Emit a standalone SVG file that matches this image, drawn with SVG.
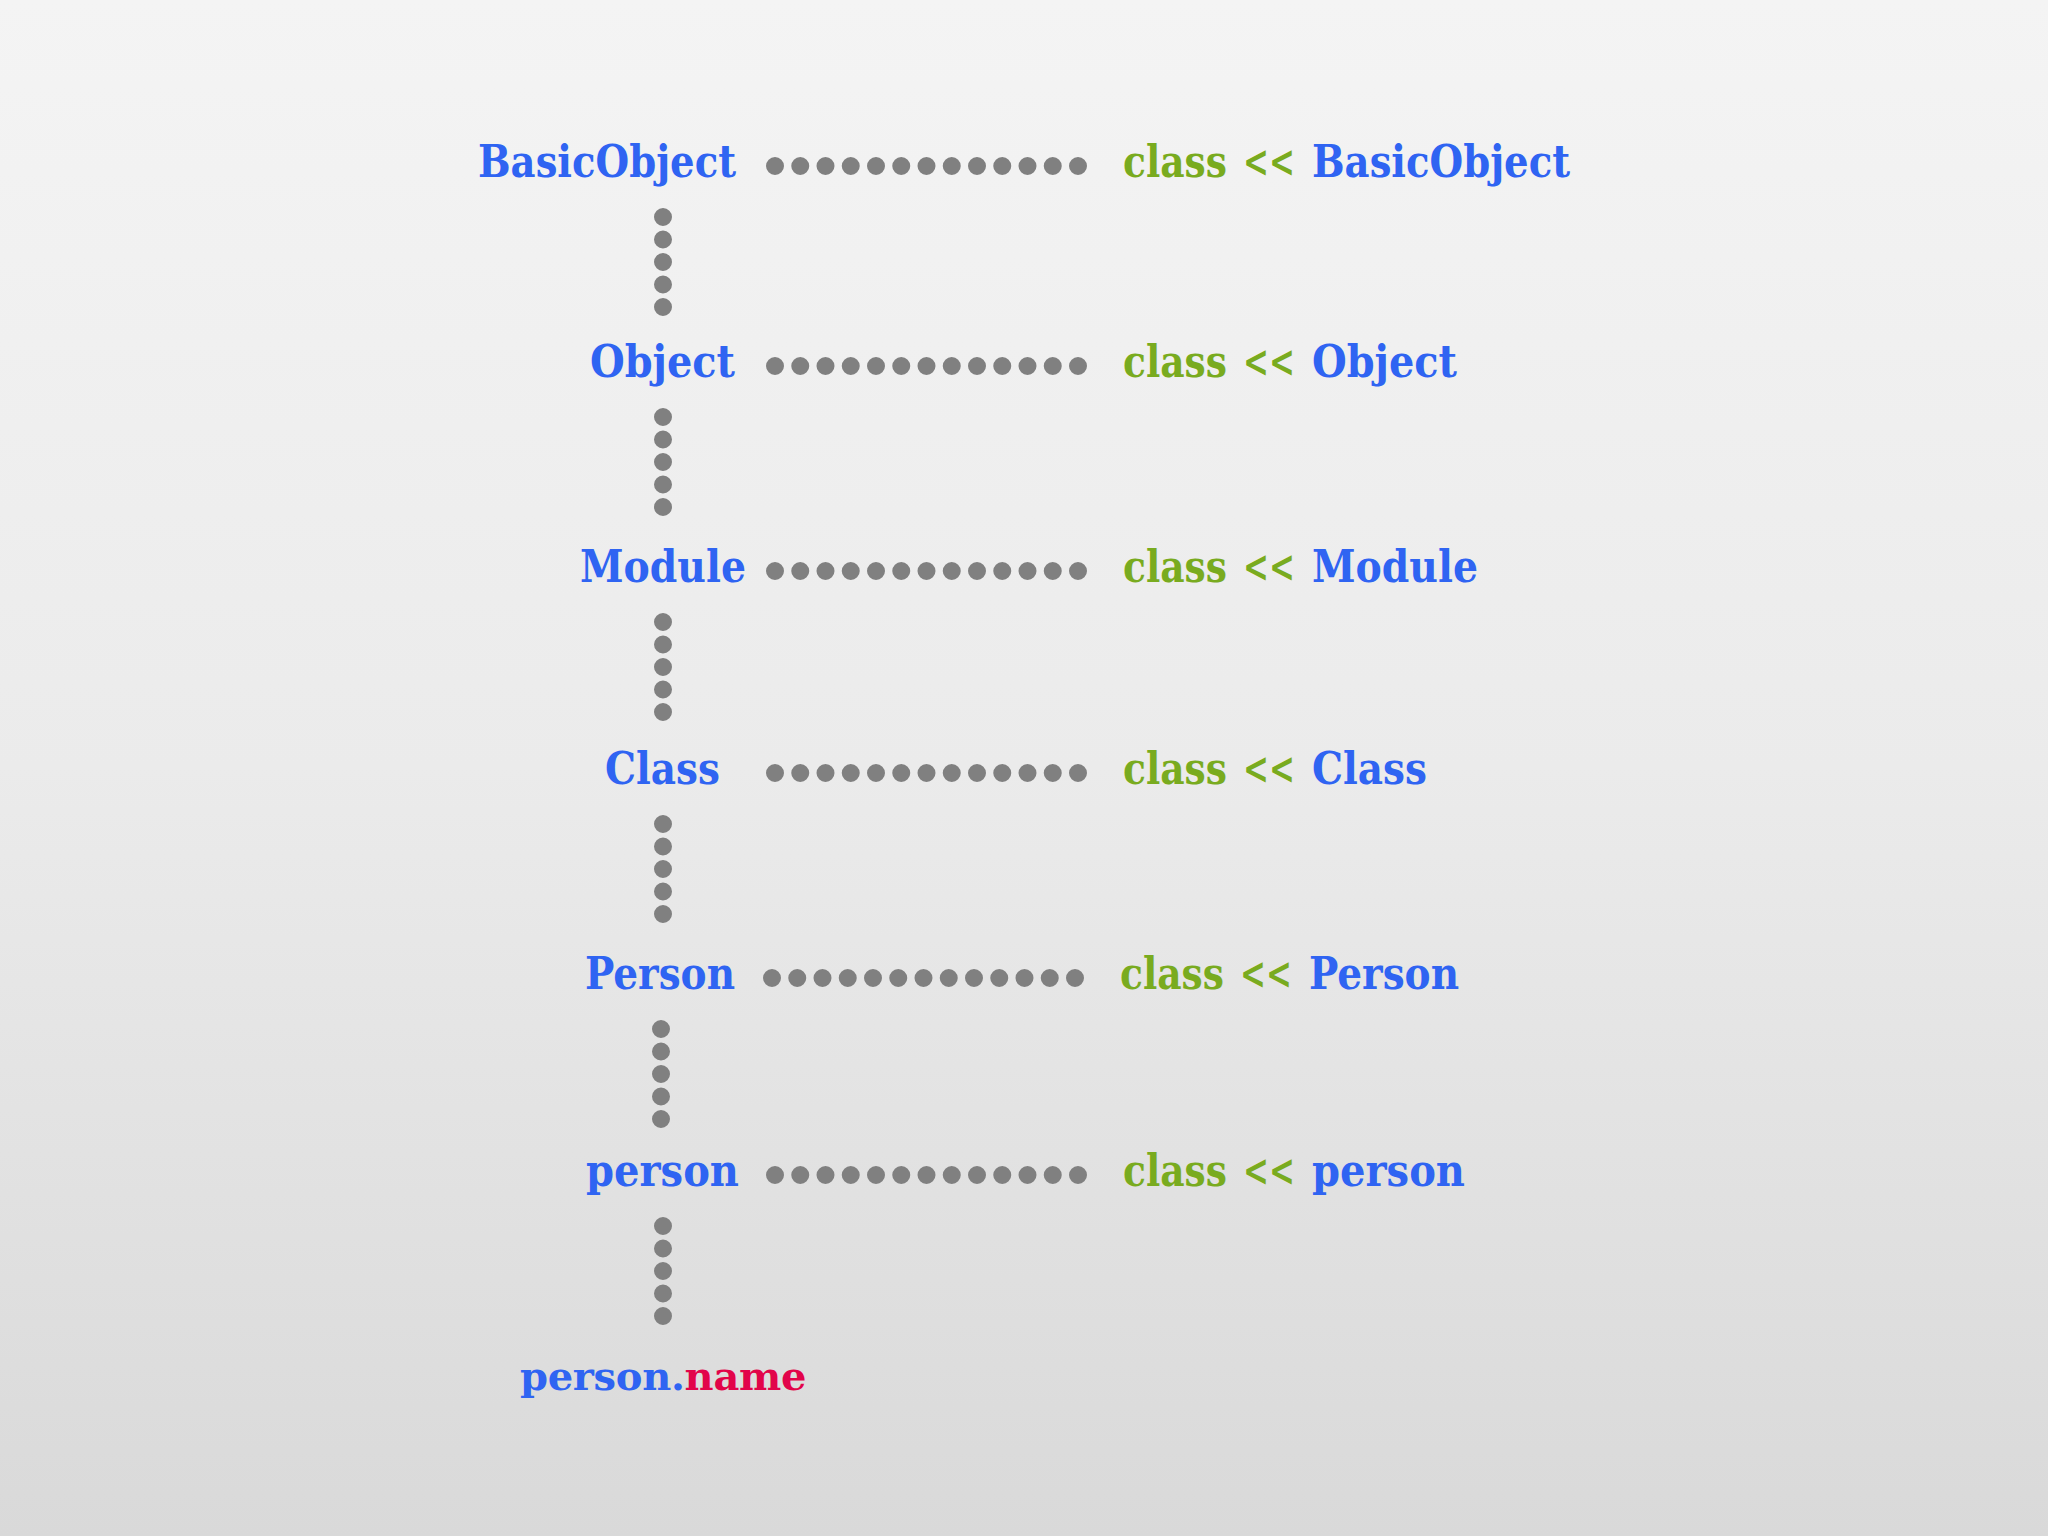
<svg xmlns="http://www.w3.org/2000/svg" width="2048" height="1536" viewBox="0 0 2048 1536">
<defs>
<linearGradient id="bg" x1="0" y1="0" x2="0" y2="1">
<stop offset="0" stop-color="#f4f4f4"/>
<stop offset="0.5" stop-color="#ebebeb"/>
<stop offset="1" stop-color="#d9d9d9"/>
</linearGradient>
<style>
text{font-family:"DejaVu Serif","Liberation Serif",serif;font-weight:bold;font-size:44px}
.b{fill:#2f64f2}
.g{fill:#79ab1f}
.r{fill:#e2044a}
.h{stroke:#808080;stroke-width:18;stroke-linecap:round;stroke-dasharray:0 25.25;fill:none}
.v{stroke:#808080;stroke-width:18;stroke-linecap:round;stroke-dasharray:0 22.5;fill:none}
</style>
</defs>
<rect width="2048" height="1536" fill="url(#bg)"/>
<g id="connectors">
<line class="h" x1="775" y1="166" x2="1080" y2="166"/>
<line class="h" x1="775" y1="366" x2="1080" y2="366"/>
<line class="h" x1="775" y1="571" x2="1080" y2="571"/>
<line class="h" x1="775" y1="773" x2="1080" y2="773"/>
<line class="h" x1="772" y1="978" x2="1077" y2="978"/>
<line class="h" x1="775" y1="1175" x2="1080" y2="1175"/>
<line class="v" x1="663" y1="217" x2="663" y2="309"/>
<line class="v" x1="663" y1="417" x2="663" y2="509"/>
<line class="v" x1="663" y1="622" x2="663" y2="714"/>
<line class="v" x1="663" y1="824" x2="663" y2="916"/>
<line class="v" x1="661" y1="1029" x2="661" y2="1121"/>
<line class="v" x1="663" y1="1226" x2="663" y2="1318"/>
</g>
<g id="node-basicobject"><text class="b" x="478" y="177" textLength="258" lengthAdjust="spacingAndGlyphs">BasicObject</text></g>
<g id="node-object"><text class="b" x="590" y="377" textLength="145" lengthAdjust="spacingAndGlyphs">Object</text></g>
<g id="node-module"><text class="b" x="580" y="582" textLength="166" lengthAdjust="spacingAndGlyphs">Module</text></g>
<g id="node-class"><text class="b" x="605" y="784" textLength="115" lengthAdjust="spacingAndGlyphs">Class</text></g>
<g id="node-Person"><text class="b" x="585" y="989" textLength="150" lengthAdjust="spacingAndGlyphs">Person</text></g>
<g id="node-person"><text class="b" x="586" y="1186" textLength="153" lengthAdjust="spacingAndGlyphs">person</text></g>
<g id="node-person-name">
<text x="520" y="1390" style="font-size:40px;letter-spacing:-0.3px"><tspan class="b">person.</tspan><tspan class="r">name</tspan></text>
</g>
<g id="node-meta-basicobject">
<text class="g" x="1123" y="177" textLength="104" lengthAdjust="spacingAndGlyphs">class</text>
<text class="g" x="1243" y="177" textLength="52" lengthAdjust="spacingAndGlyphs">&lt;&lt;</text>
<text class="b" x="1312" y="177" textLength="258" lengthAdjust="spacingAndGlyphs">BasicObject</text>
</g>
<g id="node-meta-object">
<text class="g" x="1123" y="377" textLength="104" lengthAdjust="spacingAndGlyphs">class</text>
<text class="g" x="1243" y="377" textLength="52" lengthAdjust="spacingAndGlyphs">&lt;&lt;</text>
<text class="b" x="1312" y="377" textLength="145" lengthAdjust="spacingAndGlyphs">Object</text>
</g>
<g id="node-meta-module">
<text class="g" x="1123" y="582" textLength="104" lengthAdjust="spacingAndGlyphs">class</text>
<text class="g" x="1243" y="582" textLength="52" lengthAdjust="spacingAndGlyphs">&lt;&lt;</text>
<text class="b" x="1312" y="582" textLength="166" lengthAdjust="spacingAndGlyphs">Module</text>
</g>
<g id="node-meta-class">
<text class="g" x="1123" y="784" textLength="104" lengthAdjust="spacingAndGlyphs">class</text>
<text class="g" x="1243" y="784" textLength="52" lengthAdjust="spacingAndGlyphs">&lt;&lt;</text>
<text class="b" x="1312" y="784" textLength="115" lengthAdjust="spacingAndGlyphs">Class</text>
</g>
<g id="node-meta-Person">
<text class="g" x="1120" y="989" textLength="104" lengthAdjust="spacingAndGlyphs">class</text>
<text class="g" x="1240" y="989" textLength="52" lengthAdjust="spacingAndGlyphs">&lt;&lt;</text>
<text class="b" x="1309" y="989" textLength="150" lengthAdjust="spacingAndGlyphs">Person</text>
</g>
<g id="node-meta-person">
<text class="g" x="1123" y="1186" textLength="104" lengthAdjust="spacingAndGlyphs">class</text>
<text class="g" x="1243" y="1186" textLength="52" lengthAdjust="spacingAndGlyphs">&lt;&lt;</text>
<text class="b" x="1312" y="1186" textLength="153" lengthAdjust="spacingAndGlyphs">person</text>
</g>
</svg>
